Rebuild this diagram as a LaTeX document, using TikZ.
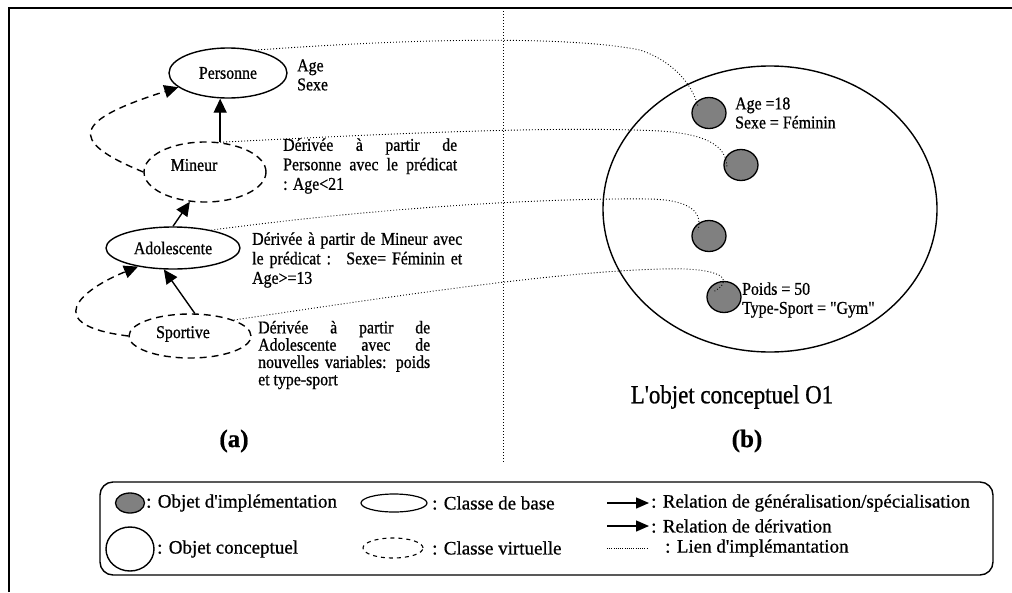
\documentclass[tikz,border=0pt]{standalone}
\usepackage{fontspec}
\setmainfont{Liberation Serif}[Ligatures=TeXOff,FakeBold=0.8,FakeStretch=0.88]
\newfontfamily\legfont{Liberation Serif}[Ligatures=TeXOff,FakeBold=0.8]
\usetikzlibrary{shapes.geometric,arrows.meta,calc}
\definecolor{implgray}{HTML}{808080}
\begin{document}
\begin{tikzpicture}[x=1pt,y=-1pt,
  classtext/.style={font=\fontsize{18}{21}\selectfont,inner sep=0pt},
  baseclass/.style={ellipse,draw,line width=1.4pt,inner sep=0pt,font=\fontsize{18}{21}\selectfont},
  virtclass/.style={baseclass,dash pattern=on 7pt off 5pt},
  implobj/.style={ellipse,draw,line width=1.3pt,fill=implgray,inner sep=0pt,minimum width=34pt,minimum height=31pt},
  concobj/.style={ellipse,draw,line width=1.4pt,inner sep=0pt},
  genarrow/.style={line width=1.4pt,-{Triangle[length=14pt,width=13pt]}},
  derivarrow/.style={genarrow,dash pattern=on 7pt off 5pt},
  legarrow/.style={line width=1.4pt,-{Triangle[length=13pt,width=11pt]}},
  impllink/.style={line width=0.9pt,dash pattern=on 0.9pt off 2.1pt},
  attrtext/.style={font=\fontsize{18}{19}\selectfont,inner sep=0pt,align=left,anchor=west},
  desctext/.style={font=\fontsize{18}{19.5}\selectfont,inner sep=0pt,align=justify,anchor=west},
  legtext/.style={font=\legfont\fontsize{19}{22}\selectfont,inner sep=0pt,anchor=west},
  captext/.style={font=\legfont\fontsize{25}{28}\selectfont\bfseries,inner sep=0pt}
]
\useasboundingbox (0,0) rectangle (1012,592);

% outer frame and separator between (a) and (b)
\draw[line width=1.5pt] (9,592) -- (9,8) -- (1012,8);
\coordinate (septop) at (503,8);
\coordinate (sepbot) at (503,463);
\draw[impllink] (septop) -- (sepbot);

% (a) class hierarchy
\node[baseclass,minimum width=118pt,minimum height=50pt] (pers) at (228,73) {Personne};
\node[virtclass,minimum width=122pt,minimum height=60pt,
      label={[classtext,xshift=-11pt,yshift=7pt]center:Mineur}] (mineur) at (205,172) {};
\node[baseclass,minimum width=134pt,minimum height=42pt] (adol) at (173,248) {Adolescente};
\node[virtclass,minimum width=122pt,minimum height=44pt,
      label={[classtext,xshift=-7pt,yshift=2pt]center:Sportive}] (sport) at (190,336) {};

\node[attrtext] (persattr) at (297,75) {Age\\Sexe};

\node[desctext,text width=174pt] (mineurdesc) at (283,166)
  {Dérivée à partir de\linebreak Personne avec le prédicat\linebreak : Age<21};
\node[desctext,text width=210pt] (adoldesc) at (252,260)
  {Dérivée à partir de Mineur avec\linebreak le prédicat :~ Sexe= Féminin et\linebreak Age>=13};
\node[desctext,text width=172pt,font=\fontsize{18}{17.3}\selectfont] (sportdesc) at (258,355)
  {Dérivée à partir de\linebreak Adolescente avec de\linebreak nouvelles variables: poids\linebreak et type-sport};

% generalisation / specialisation arrows
\draw[genarrow] (mineur.63) -- (mineur.63 |- pers.south);
\draw[genarrow] (adol.north) -- (mineur.243);
\draw[genarrow] (sport.78) -- (adol.247);

% derivation arrows
\draw[derivarrow] (mineur.west) .. controls (65,140) and (75,120) .. (pers.196);
\draw[derivarrow] (sport.west) .. controls (40,325) and (80,290) .. (adol.208);

\node[captext] (capa) at (234,441) {(a)};

% (b) conceptual object and its implementation objects
\node[concobj,minimum width=334pt,minimum height=286pt] (o1) at (770,209) {};
\node[implobj] (imp1) at (709,113) {};
\node[implobj] (imp2) at (741,165) {};
\node[implobj] (imp3) at (709,236) {};
\node[implobj] (imp4) at (724,297) {};

\node[attrtext] (imp1attr) at (735,113) {Age =18\\Sexe = Féminin};
\node[attrtext] (imp4attr) at (742,300) {Poids = 50\\Type-Sport = "Gym"};

\node[font=\fontsize{26}{30}\selectfont,inner sep=0pt] (o1name) at (732,397) {L'objet conceptuel O1};
\node[captext] (capb) at (747,441) {(b)};

% implementation links
\draw[impllink] (pers.40) .. controls (420,38) and (570,36) .. (640,50)
  .. controls (675,62) and (692,85) .. ($(imp1.center)+(-11,-7)$);
\draw[impllink] (mineur.63) .. controls (400,133) and (560,126) .. (660,131)
  .. controls (705,134) and (727,145) .. ($(imp2.center)+(-14,3)$);
\draw[impllink] (adol.25) .. controls (400,205) and (560,198) .. (650,199)
  .. controls (690,200) and (703,212) .. ($(imp3.center)+(-11,-6)$);
\draw[impllink] (sport.20) .. controls (420,292) and (560,272) .. (660,269)
  .. controls (725,267) and (735,280) .. ($(imp4.center)+(-11,-5)$);

% legend
\node[draw,line width=1.4pt,rounded corners=13pt,minimum width=893pt,minimum height=93pt,inner sep=0pt] (legend) at (546.5,528.5) {};

\node[implobj,minimum width=29pt,minimum height=20pt] (lgimpl) at (130,503) {};
\node[legtext] (lgimpltxt) at (146,503) {: Objet d'implémentation};
\node[concobj,minimum width=48pt,minimum height=44pt] (lgconc) at (130,549) {};
\node[legtext] (lgconctxt) at (157,549) {: Objet conceptuel};

\node[baseclass,line width=1.2pt,minimum width=66pt,minimum height=18pt] (lgbase) at (394,503) {};
\node[legtext] (lgbasetxt) at (432,503) {: Classe de base};
\node[virtclass,line width=1.1pt,dash pattern=on 4pt off 4pt,minimum width=60pt,minimum height=20pt] (lgvirt) at (393,548) {};
\node[legtext] (lgvirttxt) at (432,548) {: Classe virtuelle};

\coordinate (lggens) at (607,503);
\coordinate (lggene) at (649,503);
\draw[legarrow] (lggens) -- (lggene);
\node[legtext] (lggentxt) at (651,503) {: Relation de généralisation/spécialisation};
\coordinate (lgders) at (607,526);
\coordinate (lgdere) at (649,526);
\draw[legarrow] (lgders) -- (lgdere);
\node[legtext] (lgdertxt) at (651,526) {: Relation de dérivation};
\coordinate (lglinks) at (607,548);
\coordinate (lglinke) at (647,548);
\draw[impllink,line width=0.7pt,dash pattern=on 0.7pt off 1.5pt] (lglinks) -- (lglinke);
\node[legtext] (lglinktxt) at (665,548) {: Lien d'implémantation};
\end{tikzpicture}
\end{document}
